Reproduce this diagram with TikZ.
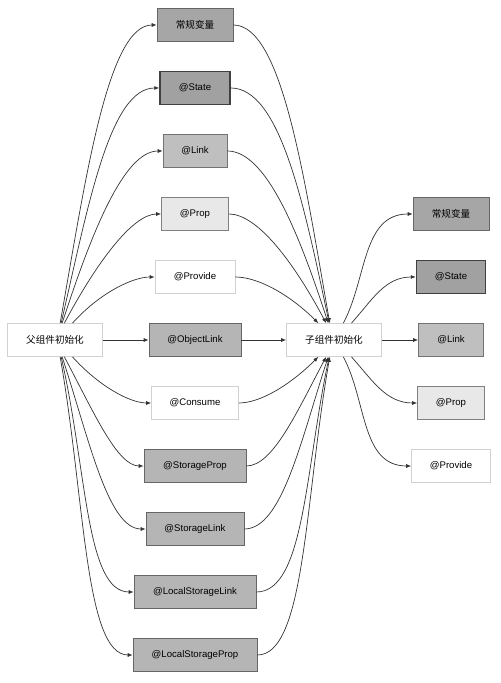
\documentclass[tikz,border=0pt]{standalone}
\usepackage{fontspec}
\setmainfont{Liberation Sans}
\newfontfamily\cjk{Noto Sans CJK SC}
\usetikzlibrary{arrows.meta}

\begin{document}
\begin{tikzpicture}[x=0.03cm,y=0.03cm,
  box/.style={draw,line width=0.6pt,minimum height=0.99cm,inner sep=0pt,
    font=\fontsize{8.2}{10}\selectfont},
  plain/.style={box,draw=black!18,fill=white},
  dk/.style={box,draw=black!60,fill=black!35},
  stt/.style={box,draw=black!75,fill=black!37,line width=1.3pt},
  md/.style={box,draw=black!60,fill=black!29},
  lt/.style={box,draw=black!55,fill=black!25},
  pl/.style={box,draw=black!50,fill=black!9},
  arr/.style={-{Latex[length=4.2pt,width=3.4pt]},line width=0.6pt,black!80}]
  \useasboundingbox (0,0) rectangle (500,683);
  % parent and child
  \node[plain,minimum width=2.85cm] (fu) at (55,343) {\cjk 父组件初始化};
  \node[plain,minimum width=2.85cm] (zi) at (334,343) {\cjk 子组件初始化};
  % middle column
  \foreach \nm/\t/\s/\w/\k in {cg/{\cjk 常规变量}/dk/2.28/5, st/@State/stt/2.1/4,
      lk/@Link/lt/1.92/3, pr/@Prop/pl/2.01/2, pv/@Provide/plain/2.4/1,
      ol/@ObjectLink/md/2.76/0, cs/@Consume/plain/2.61/-1,
      sp/@StorageProp/md/3.06/-2, sl/@StorageLink/md/2.94/-3,
      lsl/@LocalStorageLink/md/3.66/-4, lsp/@LocalStorageProp/md/3.72/-5}
    {\node[\s,minimum width=\w cm] (\nm) at (195,343+63*\k) {\t};}
  % right column
  \foreach \nm/\t/\s/\w/\k in {rcg/{\cjk 常规变量}/dk/2.28/2, rst/@State/stt/2.07/1,
      rlk/@Link/lt/1.95/0, rpr/@Prop/pl/2.01/-1, rpv/@Provide/plain/2.37/-2}
    {\node[\s,minimum width=\w cm] (\nm) at (451,343+63*\k) {\t};}
  % parent -> middle
  \draw[arr] (fu) -- (ol);
  \foreach \n/\a/\o/\lo/\li in {cg/73/80/1.2/0.4, st/70/77/1.2/0.5, lk/67/72/1.2/0.5,
      pr/61/62/1.2/0.5, pv/44/48/1.1/0.6}
    {\draw[arr] (fu.\a) to[out=\o,in=180,out looseness=\lo,in looseness=\li] (\n.west);}
  \foreach \n/\a/\o/\lo/\li in {lsp/-73/-80/1.2/0.4, lsl/-70/-77/1.2/0.5, sl/-67/-72/1.2/0.5,
      sp/-61/-62/1.2/0.5, cs/-44/-48/1.1/0.6}
    {\draw[arr] (fu.\a) to[out=\o,in=180,out looseness=\lo,in looseness=\li] (\n.west);}
  % middle -> child
  \draw[arr] (ol) -- (zi);
  \foreach \n/\b/\i/\lo/\li in {cg/104/100/0.4/1.2, st/106/102/0.5/1.2, lk/109/108/0.5/1.2,
      pr/115/118/0.5/1.2, pv/133/135/0.6/1.1}
    {\draw[arr] (\n.east) to[out=0,in=\i,out looseness=\lo,in looseness=\li] (zi.\b);}
  \foreach \n/\b/\i/\lo/\li in {lsp/-104/-100/0.4/1.2, lsl/-106/-102/0.5/1.2, sl/-109/-108/0.5/1.2,
      sp/-115/-118/0.5/1.2, cs/-133/-135/0.6/1.1}
    {\draw[arr] (\n.east) to[out=0,in=\i,out looseness=\lo,in looseness=\li] (zi.\b);}
  % child -> right
  \draw[arr] (zi) -- (rlk);
  \draw[arr] (zi.61) to[out=62,in=180] (rcg.west);
  \draw[arr] (zi.44) to[out=48,in=180] (rst.west);
  \draw[arr] (zi.-44) to[out=-48,in=180] (rpr.west);
  \draw[arr] (zi.-61) to[out=-62,in=180] (rpv.west);
\end{tikzpicture}
\end{document}
